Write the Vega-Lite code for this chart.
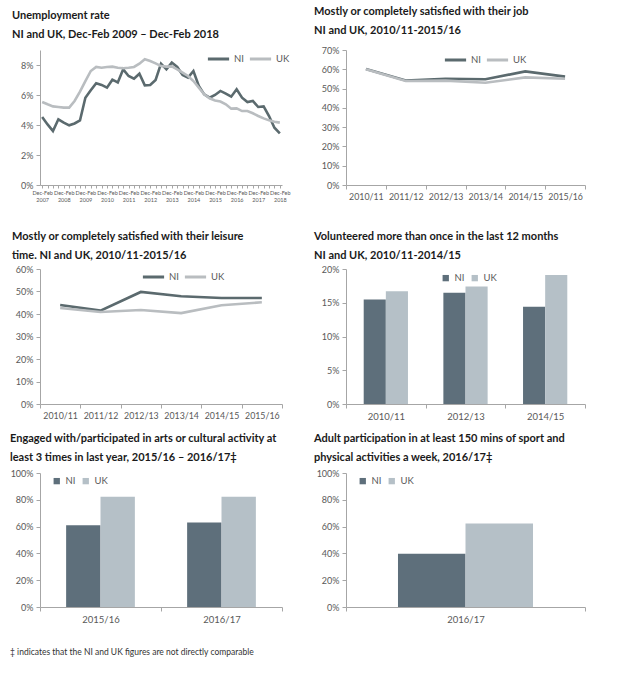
{
  "$schema": "https://vega.github.io/schema/vega-lite/v6.json",
  "padding": {"left": 10, "top": 6, "right": 5, "bottom": 5},
  "background": "white",
  "config": {
    "font": "Lato",
    "view": {"stroke": null},
    "axis": {"domainColor": "#a6a6a6", "tickColor": "#a6a6a6", "grid": false, "labelColor": "#595959", "labelFontSize": 9, "title": null, "tickSize": 4, "labelPadding": 3},
    "legend": {"orient": "none", "direction": "horizontal", "title": null, "labelFontSize": 9.5, "labelColor": "#595959", "columnPadding": 8},
    "title": {"anchor": "start", "frame": "group", "fontSize": 11, "fontWeight": "bold", "lineHeight": 19, "color": "#1a1a1a", "offset": 10}
  },
  "columns": 2,
  "spacing": {"row": 12, "column": 23},
  "resolve": {"scale": {"color": "independent", "x": "independent", "y": "independent", "xOffset": "independent"}, "legend": {"color": "independent"}},
  "title": {"text": "‡ indicates that the NI and UK figures are not directly comparable", "orient": "bottom", "anchor": "start", "frame": "bounds", "fontSize": 8.5, "fontWeight": "normal", "color": "#333333", "offset": 24},
  "concat": [
    {
      "width": 242, "height": 135,
      "title": {"text": ["Unemployment rate", "NI and UK, Dec-Feb 2009 – Dec-Feb 2018"], "dx": -28},
      "data": {"values": [
        {"period": "Dec-Feb 2007", "NI": 4.53, "UK": 5.53},
        {"period": "Mar-May 2007", "NI": 4.04, "UK": 5.38},
        {"period": "Jun-Aug 2007", "NI": 3.6, "UK": 5.24},
        {"period": "Sep-Nov 2007", "NI": 4.38, "UK": 5.2},
        {"period": "Dec-Feb 2008", "NI": 4.16, "UK": 5.16},
        {"period": "Mar-May 2008", "NI": 3.98, "UK": 5.16},
        {"period": "Jun-Aug 2008", "NI": 4.1, "UK": 5.6},
        {"period": "Sep-Nov 2008", "NI": 4.3, "UK": 6.22},
        {"period": "Dec-Feb 2009", "NI": 5.82, "UK": 6.93},
        {"period": "Mar-May 2009", "NI": 6.31, "UK": 7.6},
        {"period": "Jun-Aug 2009", "NI": 6.78, "UK": 7.87},
        {"period": "Sep-Nov 2009", "NI": 6.67, "UK": 7.82},
        {"period": "Dec-Feb 2010", "NI": 6.49, "UK": 7.87},
        {"period": "Mar-May 2010", "NI": 7.02, "UK": 7.89},
        {"period": "Jun-Aug 2010", "NI": 6.84, "UK": 7.82},
        {"period": "Sep-Nov 2010", "NI": 7.71, "UK": 7.78},
        {"period": "Dec-Feb 2011", "NI": 7.27, "UK": 7.82},
        {"period": "Mar-May 2011", "NI": 7.09, "UK": 7.87},
        {"period": "Jun-Aug 2011", "NI": 7.42, "UK": 8.09},
        {"period": "Sep-Nov 2011", "NI": 6.64, "UK": 8.38},
        {"period": "Dec-Feb 2012", "NI": 6.67, "UK": 8.27},
        {"period": "Mar-May 2012", "NI": 7.0, "UK": 8.11},
        {"period": "Jun-Aug 2012", "NI": 8.09, "UK": 7.93},
        {"period": "Sep-Nov 2012", "NI": 7.71, "UK": 7.89},
        {"period": "Dec-Feb 2013", "NI": 8.16, "UK": 7.91},
        {"period": "Mar-May 2013", "NI": 7.87, "UK": 7.71},
        {"period": "Jun-Aug 2013", "NI": 7.33, "UK": 7.49},
        {"period": "Sep-Nov 2013", "NI": 7.16, "UK": 7.27},
        {"period": "Dec-Feb 2014", "NI": 7.6, "UK": 6.93},
        {"period": "Mar-May 2014", "NI": 6.6, "UK": 6.49},
        {"period": "Jun-Aug 2014", "NI": 6.04, "UK": 6.04},
        {"period": "Sep-Nov 2014", "NI": 5.82, "UK": 5.78},
        {"period": "Dec-Feb 2015", "NI": 6.0, "UK": 5.64},
        {"period": "Mar-May 2015", "NI": 6.27, "UK": 5.56},
        {"period": "Jun-Aug 2015", "NI": 6.09, "UK": 5.38},
        {"period": "Sep-Nov 2015", "NI": 5.89, "UK": 5.09},
        {"period": "Dec-Feb 2016", "NI": 6.38, "UK": 5.11},
        {"period": "Mar-May 2016", "NI": 5.82, "UK": 4.93},
        {"period": "Jun-Aug 2016", "NI": 5.53, "UK": 4.93},
        {"period": "Sep-Nov 2016", "NI": 5.6, "UK": 4.78},
        {"period": "Dec-Feb 2017", "NI": 5.2, "UK": 4.6},
        {"period": "Mar-May 2017", "NI": 5.24, "UK": 4.44},
        {"period": "Jun-Aug 2017", "NI": 4.6, "UK": 4.31},
        {"period": "Sep-Nov 2017", "NI": 3.82, "UK": 4.22},
        {"period": "Dec-Feb 2018", "NI": 3.44, "UK": 4.16}
      ]},
      "transform": [{"fold": ["NI", "UK"], "as": ["region", "rate"]}],
      "mark": {"type": "line", "strokeWidth": 2.6},
      "encoding": {
        "x": {"field": "period", "type": "ordinal", "sort": null, "scale": {"type": "point", "padding": 0.4},
              "axis": {"labelAngle": 0, "labelOverlap": false, "labelFontSize": 5.5, "labelLineHeight": 7, "tickSize": 3, "labelPadding": 2,
                       "labelExpr": "indexof(datum.label,'Dec-Feb')==0 ? [slice(datum.label,0,7), slice(datum.label,8)] : ''"}},
        "y": {"field": "rate", "type": "quantitative", "scale": {"domain": [0, 9], "nice": false}, "axis": {"values": [0, 2, 4, 6, 8], "labelExpr": "datum.value + '%'"}},
        "color": {"field": "region", "type": "nominal", "scale": {"domain": ["NI", "UK"], "range": ["#5b6a6e", "#b9bdc0"]},
                  "legend": {"legendX": 166, "legendY": 3.5, "clipHeight": 11, "symbolType": "stroke", "symbolSize": 450, "symbolStrokeWidth": 3, "labelOffset": 3, "columnPadding": 4}}
      }
    },
    {
      "width": 239, "height": 135,
      "title": {"text": ["Mostly or completely satisfied with their job", "NI and UK, 2010/11-2015/16"], "dx": -32},
      "data": {"values": [
        {"year": "2010/11", "NI": 60.1, "UK": 60.0},
        {"year": "2011/12", "NI": 54.2, "UK": 53.9},
        {"year": "2012/13", "NI": 55.1, "UK": 54.1},
        {"year": "2013/14", "NI": 54.8, "UK": 53.0},
        {"year": "2014/15", "NI": 58.9, "UK": 55.8},
        {"year": "2015/16", "NI": 56.2, "UK": 55.1}
      ]},
      "transform": [{"fold": ["NI", "UK"], "as": ["region", "pct"]}],
      "mark": {"type": "line", "strokeWidth": 2.6},
      "encoding": {
        "x": {"field": "year", "type": "ordinal", "sort": null, "bandPosition": 0.5, "scale": {"type": "band", "paddingInner": 0, "paddingOuter": 0},
              "axis": {"labelAngle": 0, "tickBand": "extent", "labelFontSize": 8.8, "title": " ", "titleFontSize": 10, "titlePadding": 8}},
        "y": {"field": "pct", "type": "quantitative", "scale": {"domain": [0, 70], "nice": false}, "axis": {"values": [0, 10, 20, 30, 40, 50, 60, 70], "labelExpr": "datum.value + '%'"}},
        "color": {"field": "region", "type": "nominal", "scale": {"domain": ["NI", "UK"], "range": ["#5b6a6e", "#b9bdc0"]},
                  "legend": {"legendX": 97, "legendY": 4.5, "clipHeight": 11, "symbolType": "stroke", "symbolSize": 450, "symbolStrokeWidth": 3, "labelOffset": 3, "columnPadding": 4}}
      }
    },
    {
      "width": 242, "height": 135,
      "title": {"text": ["Mostly or completely satisfied with their leisure", "time.  NI and UK, 2010/11-2015/16"], "dx": -28, "offset": 4},
      "data": {"values": [
        {"year": "2010/11", "NI": 44.0, "UK": 42.7},
        {"year": "2011/12", "NI": 41.5, "UK": 40.9},
        {"year": "2012/13", "NI": 49.8, "UK": 41.8},
        {"year": "2013/14", "NI": 47.9, "UK": 40.4},
        {"year": "2014/15", "NI": 47.1, "UK": 43.9},
        {"year": "2015/16", "NI": 47.1, "UK": 45.2}
      ]},
      "transform": [{"fold": ["NI", "UK"], "as": ["region", "pct"]}],
      "mark": {"type": "line", "strokeWidth": 2.6},
      "encoding": {
        "x": {"field": "year", "type": "ordinal", "sort": null, "bandPosition": 0.5, "scale": {"type": "band", "paddingInner": 0, "paddingOuter": 0},
              "axis": {"labelAngle": 0, "tickBand": "extent", "labelFontSize": 8.8}},
        "y": {"field": "pct", "type": "quantitative", "scale": {"domain": [0, 60], "nice": false}, "axis": {"values": [0, 10, 20, 30, 40, 50, 60], "labelExpr": "datum.value + '%'"}},
        "color": {"field": "region", "type": "nominal", "scale": {"domain": ["NI", "UK"], "range": ["#5b6a6e", "#b9bdc0"]},
                  "legend": {"legendX": 101, "legendY": 2.5, "clipHeight": 11, "symbolType": "stroke", "symbolSize": 450, "symbolStrokeWidth": 3, "labelOffset": 3, "columnPadding": 4}}
      }
    },
    {
      "width": 239, "height": 135,
      "title": {"text": ["Volunteered more than once in the last 12 months", "NI and UK, 2010/11-2014/15"], "dx": -32, "offset": 4},
      "data": {"values": [
        {"year": "2010/11", "NI": 15.5, "UK": 16.7},
        {"year": "2012/13", "NI": 16.5, "UK": 17.4},
        {"year": "2014/15", "NI": 14.4, "UK": 19.1}
      ]},
      "transform": [{"fold": ["NI", "UK"], "as": ["region", "pct"]}],
      "mark": {"type": "bar"},
      "encoding": {
        "x": {"field": "year", "type": "ordinal", "sort": null, "scale": {"type": "band", "paddingInner": 0, "paddingOuter": 0},
              "axis": {"labelAngle": 0, "tickBand": "extent", "labelFontSize": 9.5}},
        "xOffset": {"field": "region", "type": "nominal", "scale": {"paddingInner": 0, "paddingOuter": 0.8}},
        "y": {"field": "pct", "type": "quantitative", "scale": {"domain": [0, 20], "nice": false}, "axis": {"values": [0, 5, 10, 15, 20], "labelExpr": "datum.value + '%'"}},
        "color": {"field": "region", "type": "nominal", "scale": {"domain": ["NI", "UK"], "range": ["#5e6f7b", "#b5c0c7"]},
                  "legend": {"legendX": 95, "legendY": 4, "symbolType": "square", "symbolSize": 40, "columnPadding": 5}}
      }
    },
    {
      "width": 242, "height": 134,
      "title": {"text": ["Engaged with/participated in arts or cultural activity at", "least 3 times in last year, 2015/16 – 2016/17‡"], "dx": -30, "offset": 6},
      "data": {"values": [
        {"year": "2015/16", "NI": 61, "UK": 82.3},
        {"year": "2016/17", "NI": 63, "UK": 82.3}
      ]},
      "transform": [{"fold": ["NI", "UK"], "as": ["region", "pct"]}],
      "mark": {"type": "bar"},
      "encoding": {
        "x": {"field": "year", "type": "ordinal", "sort": null, "scale": {"type": "band", "paddingInner": 0, "paddingOuter": 0},
              "axis": {"labelAngle": 0, "tickBand": "extent", "labelFontSize": 9.5}},
        "xOffset": {"field": "region", "type": "nominal", "scale": {"paddingInner": 0, "paddingOuter": 0.76}},
        "y": {"field": "pct", "type": "quantitative", "scale": {"domain": [0, 100], "nice": false}, "axis": {"values": [0, 20, 40, 60, 80, 100], "labelExpr": "datum.value + '%'"}},
        "color": {"field": "region", "type": "nominal", "scale": {"domain": ["NI", "UK"], "range": ["#5e6f7b", "#b5c0c7"]},
                  "legend": {"legendX": 12, "legendY": 3, "symbolType": "square", "symbolSize": 40, "columnPadding": 5}}
      }
    },
    {
      "width": 239, "height": 134,
      "title": {"text": ["Adult participation in at least 150 mins of sport and", "physical activities a week, 2016/17‡"], "dx": -32, "offset": 6},
      "data": {"values": [
        {"year": "2016/17", "NI": 39.8, "UK": 62.3}
      ]},
      "transform": [{"fold": ["NI", "UK"], "as": ["region", "pct"]}],
      "mark": {"type": "bar"},
      "encoding": {
        "x": {"field": "year", "type": "ordinal", "sort": null, "scale": {"type": "band", "paddingInner": 0, "paddingOuter": 0},
              "axis": {"labelAngle": 0, "tickBand": "extent", "labelFontSize": 9.5}},
        "xOffset": {"field": "region", "type": "nominal", "scale": {"paddingInner": 0, "paddingOuter": 0.77}},
        "y": {"field": "pct", "type": "quantitative", "scale": {"domain": [0, 100], "nice": false}, "axis": {"values": [0, 20, 40, 60, 80, 100], "labelExpr": "datum.value + '%'"}},
        "color": {"field": "region", "type": "nominal", "scale": {"domain": ["NI", "UK"], "range": ["#5e6f7b", "#b5c0c7"]},
                  "legend": {"legendX": 12, "legendY": 3, "symbolType": "square", "symbolSize": 40, "columnPadding": 5}}
      }
    }
  ]
}
